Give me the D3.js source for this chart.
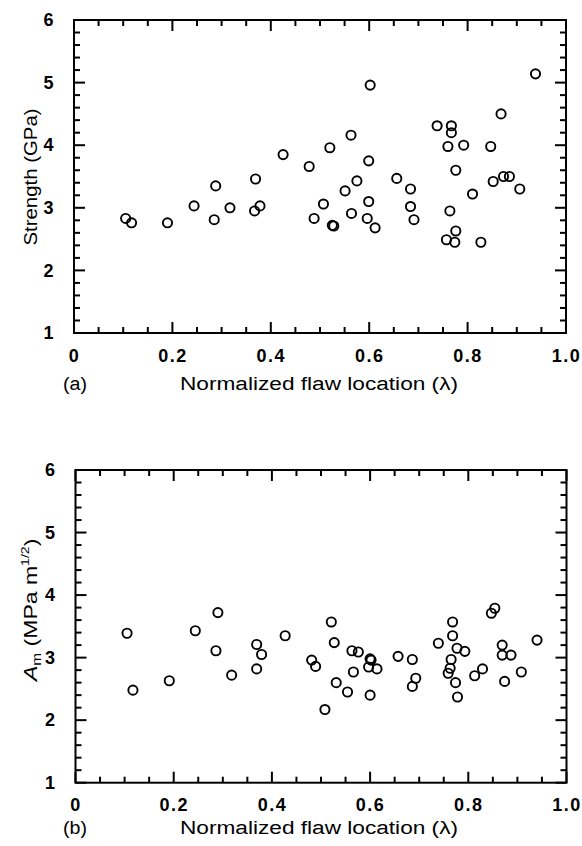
<!DOCTYPE html>
<html>
<head>
<meta charset="utf-8">
<script src="https://cdn.jsdelivr.net/npm/d3@7"></script>
<style>
  body { margin: 0; background: #fff; }
  svg { display: block; }
  text { font-family: "Liberation Sans", Arial, Helvetica, sans-serif; fill: #000; }
  .tick text { font-size: 18px; font-weight: bold; letter-spacing: 1.5px; }
</style>
</head>
<body>
<script>
// panel (a): tensile strength vs normalized flaw location
const strengthLoc = [0.105, 0.117, 0.190, 0.244, 0.285, 0.288, 0.317, 0.367, 0.369, 0.378,
  0.425, 0.478, 0.488, 0.507, 0.520, 0.525, 0.528, 0.551, 0.563, 0.564, 0.575, 0.596,
  0.599, 0.599, 0.602, 0.612, 0.656, 0.684, 0.684, 0.691, 0.738, 0.757, 0.760, 0.764,
  0.767, 0.767, 0.774, 0.776, 0.776, 0.792, 0.810, 0.827, 0.847, 0.852, 0.868, 0.873,
  0.885, 0.906, 0.938];
const strengthVal = [2.83, 2.76, 2.76, 3.03, 2.81, 3.35, 3.00, 2.95, 3.46, 3.03,
  3.85, 3.66, 2.83, 3.06, 3.96, 2.72, 2.71, 3.27, 4.16, 2.91, 3.43, 2.83,
  3.75, 3.10, 4.96, 2.68, 3.47, 3.30, 3.02, 2.81, 4.31, 2.49, 3.98, 2.95,
  4.31, 4.20, 2.45, 3.60, 2.63, 4.00, 3.22, 2.45, 3.98, 3.42, 4.50, 3.50,
  3.50, 3.30, 5.14];

// panel (b): A_m vs normalized flaw location
const amLoc = [0.105, 0.117, 0.191, 0.244, 0.286, 0.290, 0.318, 0.369, 0.369, 0.379,
  0.427, 0.481, 0.489, 0.508, 0.521, 0.527, 0.531, 0.554, 0.563, 0.566, 0.576,
  0.597, 0.600, 0.600, 0.602, 0.614, 0.657, 0.686, 0.686, 0.693, 0.739, 0.759,
  0.763, 0.765, 0.768, 0.768, 0.774, 0.777, 0.778, 0.793, 0.813, 0.829, 0.847,
  0.854, 0.869, 0.869, 0.874, 0.887, 0.908, 0.940];
const amVal = [3.39, 2.48, 2.63, 3.43, 3.11, 3.72, 2.72, 3.21, 2.82, 3.05,
  3.35, 2.96, 2.86, 2.17, 3.57, 3.24, 2.60, 2.45, 3.11, 2.77, 3.09,
  2.85, 2.98, 2.40, 2.96, 2.82, 3.02, 2.97, 2.54, 2.67, 3.23, 2.75,
  2.83, 2.97, 3.57, 3.35, 2.60, 3.15, 2.37, 3.10, 2.71, 2.82, 3.71,
  3.79, 3.20, 3.04, 2.62, 3.04, 2.77, 3.28];

const xMajor = [0, 0.2, 0.4, 0.6, 0.8, 1.0];
const yMajor = [1, 2, 3, 4, 5, 6];
const xMinor = [0.05, 0.1, 0.15, 0.25, 0.3, 0.35, 0.45, 0.5, 0.55, 0.65, 0.7, 0.75, 0.85, 0.9, 0.95];
const yMinor = [1.2, 1.4, 1.6, 1.8, 2.2, 2.4, 2.6, 2.8, 3.2, 3.4, 3.6, 3.8, 4.2, 4.4, 4.6, 4.8, 5.2, 5.4, 5.6, 5.8];

const width = 582, height = 846;
const svg = d3.select("body").append("svg")
  .attr("width", width).attr("height", height);

function drawPanel(box, xs, ys, tag) {
  const x = d3.scaleLinear().domain([0, 1]).range([box.left, box.right]);
  const y = d3.scaleLinear().domain([1, 6]).range([box.bottom, box.top]);
  const g = svg.append("g");
  const fmtX = d => d === 0 ? "0" : d3.format(".1f")(d);

  // tick labels from d3 axes
  const ax = g.append("g").attr("transform", `translate(0,${box.bottom})`)
    .call(d3.axisBottom(x).tickValues(xMajor).tickFormat(fmtX).tickSize(0).tickPadding(16));
  const ay = g.append("g").attr("transform", `translate(${box.left},0)`)
    .call(d3.axisLeft(y).tickValues(yMajor).tickFormat(d3.format("d")).tickSize(0).tickPadding(19));
  ax.select(".domain").remove();
  ay.select(".domain").remove();

  // inward tick marks on all four sides
  const xt = xMajor.map(v => [v, 11]).concat(xMinor.map(v => [v, 6]));
  const yt = yMajor.map(v => [v, 11]).concat(yMinor.map(v => [v, 6]));
  const tickPaths = []
    .concat(xt.map(d => `M${x(d[0])},${box.bottom}V${box.bottom - d[1]}`))
    .concat(xt.map(d => `M${x(d[0])},${box.top}V${box.top + d[1]}`))
    .concat(yt.map(d => `M${box.left},${y(d[0])}H${box.left + d[1]}`))
    .concat(yt.map(d => `M${box.right},${y(d[0])}H${box.right - d[1]}`));
  const tg = g.append("g").attr("class", "ticks");
  tg.selectAll("path")
    .data(tickPaths)
    .join("path")
    .attr("d", d => d)
    .attr("fill", "none")
    .attr("stroke", "#000")
    .attr("stroke-width", 2);

  g.append("rect")
    .attr("x", box.left).attr("y", box.top)
    .attr("width", box.right - box.left).attr("height", box.bottom - box.top)
    .attr("fill", "none").attr("stroke", "#000").attr("stroke-width", 2);

  g.append("g").selectAll("circle")
    .data(xs.map((v, i) => [v, ys[i]]))
    .join("circle")
    .attr("cx", d => x(d[0]))
    .attr("cy", d => y(d[1]))
    .attr("r", 4.6)
    .attr("fill", "none")
    .attr("stroke", "#000")
    .attr("stroke-width", 1.9);

  // panel tag and x title
  g.append("text")
    .attr("x", 63).attr("y", box.bottom + tag.dy)
    .attr("font-size", 18)
    .attr("textLength", 24).attr("lengthAdjust", "spacingAndGlyphs")
    .text(tag.label);
  g.append("text")
    .attr("x", 180).attr("y", box.bottom + tag.dy)
    .attr("font-size", 18)
    .attr("textLength", 278).attr("lengthAdjust", "spacingAndGlyphs")
    .text("Normalized flaw location (\u03bb)");
  return g;
}

const gA = drawPanel({left: 74, right: 566, top: 20, bottom: 333}, strengthLoc, strengthVal, {label: "(a)", dy: 57});
gA.append("text")
  .attr("transform", "translate(37,177) rotate(-90)")
  .attr("text-anchor", "middle")
  .attr("font-size", 18)
  .attr("textLength", 137).attr("lengthAdjust", "spacingAndGlyphs")
  .text("Strength (GPa)");

const gB = drawPanel({left: 75.5, right: 566.5, top: 470, bottom: 782.7}, amLoc, amVal, {label: "(b)", dy: 51});
const ytl = gB.append("text")
  .attr("transform", "translate(37,681) rotate(-90) scale(1.28,1)")
  .attr("font-size", 18);
ytl.append("tspan").attr("font-style", "italic").text("A");
ytl.append("tspan").attr("font-size", 12).attr("dy", 4).text("m");
ytl.append("tspan").attr("dy", -4).text(" (MPa m");
ytl.append("tspan").attr("font-size", 11).attr("dy", -8).text("1/2");
ytl.append("tspan").attr("dy", 8).text(")");
</script>
</body>
</html>
